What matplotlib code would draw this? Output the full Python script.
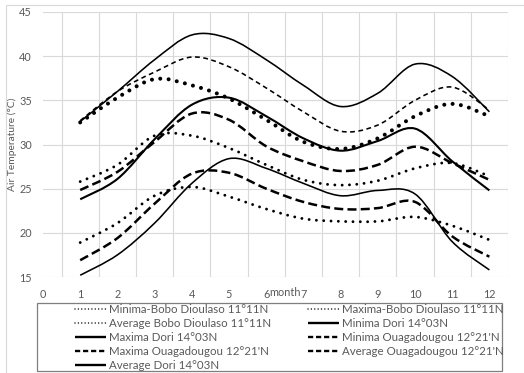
import matplotlib
matplotlib.use('Agg')
import matplotlib.pyplot as plt
from matplotlib.path import Path
from matplotlib.patches import PathPatch, Rectangle
from matplotlib.lines import Line2D
import numpy as np

# ---------------- data ----------------
months = [1, 2, 3, 4, 5, 6, 7, 8, 9, 10, 11, 12]
x_ticks = [0, 1, 2, 3, 4, 5, 6, 7, 8, 9, 10, 11, 12]
y_ticks = [15, 20, 25, 30, 35, 40, 45]

min_bobo = [18.9, 21.1, 24.2, 25.2, 24.1, 22.7, 21.6, 21.3, 21.3, 21.8, 20.8, 19.2]
max_bobo = [32.5, 35.3, 37.4, 36.7, 35.2, 32.8, 30.3, 29.5, 30.7, 33.2, 34.6, 33.2]
avg_bobo = [25.8, 27.7, 31.0, 31.0, 29.6, 27.7, 26.0, 25.4, 25.9, 27.3, 27.9, 26.4]
min_dori = [15.2, 17.5, 21.1, 25.6, 28.4, 27.3, 25.6, 24.2, 24.8, 24.4, 19.0, 15.8]
max_dori = [32.6, 36.0, 39.6, 42.4, 42.0, 39.6, 36.7, 34.3, 35.8, 39.1, 37.7, 33.7]
min_ouaga = [16.9, 19.4, 23.3, 26.7, 26.8, 25.0, 23.5, 22.7, 22.8, 23.5, 19.6, 17.3]
max_ouaga = [32.7, 36.0, 38.2, 39.9, 38.8, 36.4, 33.7, 31.5, 32.2, 35.0, 36.5, 33.9]
avg_ouaga = [24.85, 26.9, 30.3, 33.5, 32.8, 29.8, 28.1, 27.0, 27.7, 29.75, 27.9, 26.0]
avg_dori = [23.8, 26.1, 30.6, 34.5, 35.3, 33.2, 30.7, 29.3, 30.4, 31.8, 28.1, 24.8]

labels = ["Minima-Bobo Dioulaso 11°11N", "Maxima-Bobo Dioulaso 11°11N",
          "Average Bobo Dioulaso 11°11N", "Minima Dori 14°03N",
          "Maxima Dori 14°03N", "Minima Ouagadougou 12°21'N",
          "Maxima Ouagadougou 12°21'N", "Average Ouagadougou 12°21'N",
          "Average Dori 14°03N"]
series = [min_bobo, max_bobo, avg_bobo, min_dori, max_dori,
          min_ouaga, max_ouaga, avg_ouaga, avg_dori]

# ---------------- styles ----------------
DOT_S = dict(lw=2.1, ls=(0, (0.01, 2.5)), cap='round')
DOT_L = dict(lw=2.9, ls=(0, (0.01, 2.07)), cap='round')
SOLID = dict(lw=1.15, ls='-', cap='butt')
SOLID_T = dict(lw=1.5, ls='-', cap='butt')
DASH_F = dict(lw=1.15, ls=(0, (3.0, 2.2)), cap='butt')
DASH_L = dict(lw=1.8, ls=(0, (3.6, 1.7)), cap='butt')
styles = [DOT_S, DOT_L, DOT_S, SOLID, SOLID, DASH_L, DASH_F, DASH_L, SOLID_T]

# legend handle styles
LEG_DOT = dict(lw=1.1, ls=(0, (0.01, 2.2)), cap='round')
LEG_SOLID = dict(lw=1.7, ls='-', cap='butt')
LEG_DASH = dict(lw=1.7, ls=(0, (2.2, 1.2)), cap='butt')
leg_styles = [LEG_DOT, LEG_DOT, LEG_DOT, LEG_SOLID, LEG_SOLID,
              LEG_DASH, LEG_DASH, LEG_DASH, LEG_SOLID]

GRAY = '#595959'
GRID = '#d9d9d9'
FONT = ['Lato', 'DejaVu Sans']
FS = 7.8
LFS = 8.3

plt.rcParams['font.family'] = FONT


def smooth_path(xs, ys):
    """Excel-style smoothed line: cubic Bezier segments through the points."""
    pts = np.column_stack([xs, ys]).astype(float)
    n = len(pts)
    verts = [pts[0]]
    codes = [Path.MOVETO]
    for i in range(n - 1):
        p0 = pts[i - 1] if i > 0 else pts[i]
        p1 = pts[i]
        p2 = pts[i + 1]
        p3 = pts[i + 2] if i + 2 < n else pts[i + 1]
        verts += [p1 + (p2 - p0) / 6.0, p2 - (p3 - p1) / 6.0, p2]
        codes += [Path.CURVE4] * 3
    return Path(verts, codes)


W, H = 524, 373
fig = plt.figure(figsize=(W / 100, H / 100), dpi=100)
ax = fig.add_axes([43 / W, 1 - 277 / H, 465 / W, 265 / H])

ax.set_xlim(0, 12.5)
ax.set_ylim(15, 45)

for vals, st in zip(series, styles):
    patch = PathPatch(smooth_path(months, vals), fill=False, edgecolor='black',
                      linewidth=st['lw'], linestyle=st['ls'],
                      capstyle=st['cap'], joinstyle='round', zorder=3)
    ax.add_patch(patch)

# grid
ax.set_yticks(y_ticks)
ax.set_xticks(x_ticks)
ax.set_xticks([0] + [k + 0.5 for k in range(13)], minor=True)
ax.grid(False)
ax.grid(True, axis='y', which='major', color=GRID, lw=0.8)
ax.grid(True, axis='x', which='minor', color=GRID, lw=0.8)
for s in ax.spines.values():
    s.set_visible(False)
ax.tick_params(which='both', length=0)
ax.tick_params(axis='y', pad=8, labelsize=FS, labelcolor=GRAY)
ax.tick_params(axis='x', pad=9, labelsize=FS, labelcolor=GRAY)
ax.set_axisbelow(True)

ax.set_ylabel('Air Temperature (°C)', fontsize=7.4, color=GRAY)
ax.yaxis.set_label_coords(-0.056, 0.5)
ax.text(6.5, -0.06, 'month', transform=ax.get_xaxis_transform(),
        ha='center', va='center', fontsize=FS, color=GRAY)

# chart-area border (light gray, top and left visible)
fig.patches.append(Rectangle((6 / W, -0.2), 1.2, 1.2 - 5 / H,
                             transform=fig.transFigure, fill=False,
                             edgecolor=GRID, lw=0.8))

# legend frame
fig.patches.append(Rectangle((37 / W, 2 / H), 465 / W, 68 / H,
                             transform=fig.transFigure, fill=False,
                             edgecolor='#7f7f7f', lw=0.9))

handles = []
for st in leg_styles:
    handles.append(Line2D([0], [0], color='black', lw=st['lw'], ls=st['ls'],
                          solid_capstyle=st['cap'], dash_capstyle=st['cap']))

col1 = [0, 2, 4, 6, 8]
col2 = [1, 3, 5, 7]
common = dict(frameon=False, fontsize=LFS, handlelength=2.7, handletextpad=0.25,
              labelspacing=0.26, borderpad=0, borderaxespad=0,
              loc='upper left', labelcolor=GRAY)
fig.legend([handles[i] for i in col1], [labels[i] for i in col1],
           bbox_to_anchor=(75 / W, 1 - 304 / H), **common)
fig.legend([handles[i] for i in col2], [labels[i] for i in col2],
           bbox_to_anchor=(308 / W, 1 - 304 / H), **common)

fig.savefig('out.png', dpi=100)
